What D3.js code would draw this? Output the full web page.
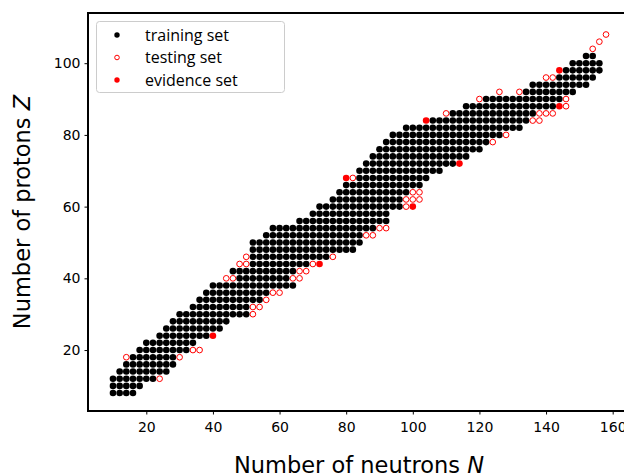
<!DOCTYPE html>
<html>
<head>
<meta charset="utf-8">
<script src="https://cdn.jsdelivr.net/npm/d3@7"></script>
<style>
  body { margin: 0; background: #fff; }
  svg { display: block; }
  .tick text { font-family: "DejaVu Sans", sans-serif; font-size: 14px; fill: #000; }
  .axis-label { font-family: "DejaVu Sans", sans-serif; font-size: 22.5px; fill: #000; }
  .legend text { font-family: "Open Sans", sans-serif; font-size: 16px; fill: #000; }
</style>
</head>
<body>
<div id="chart"></div>
<script>
// even-even nuclei, one row per proton number Z
// training set given as first / last neutron number N of each row (step 2)
var protonZ     = [  8, 10, 12, 14, 16, 18, 20, 22, 24, 26, 28, 30, 32, 34, 36, 38, 40, 42, 44, 46, 48, 50, 52, 54, 56, 58, 60, 62, 64, 66, 68, 70, 72, 74, 76, 78, 80, 82, 84, 86, 88, 90, 92, 94, 96, 98,100,102];
var trainFirstN = [ 10, 10, 10, 12, 14, 16, 18, 20, 24, 26, 28, 30, 34, 36, 38, 40, 48, 46, 52, 52, 52, 52, 56, 58, 66, 70, 72, 76, 78, 80, 84, 84, 86, 88, 90, 92, 94, 98,106,112,116,122,134,136,144,146,148,152];
var trainLastN  = [ 16, 18, 22, 26, 28, 28, 32, 34, 38, 42, 44, 50, 50, 54, 56, 64, 62, 64, 68, 74, 82, 84, 84, 88, 92, 92, 96, 96, 98,102,104,108,112,116,120,122,126,132,134,136,142,144,148,152,154,156,156,154];

// testing set
var testN = [24, 14, 30, 34, 36, 52, 52, 54, 56, 58, 60, 44, 46, 64, 66, 66, 68, 48, 50, 70, 50, 76, 86, 88, 90, 92,
             98, 98,100,102,100,102, 82,124,128,136,138,110,138,140,142,146,120,146,126,132,140,142,154,156,158];
var testZ = [12, 18, 18, 20, 20, 30, 32, 32, 34, 36, 36, 40, 40, 40, 40, 42, 42, 44, 44, 44, 46, 46, 52, 52, 54, 54,
             60, 62, 62, 62, 64, 64, 68, 78, 80, 84, 84, 86, 86, 86, 86, 88, 90, 90, 92, 92, 96, 96,104,106,108];

// evidence set
var evidN = [40, 72, 100, 80, 114, 104, 144, 144];
var evidZ = [24, 44,  60, 68,  72,  84,  88,  98];

var xTicks = [20, 40, 60, 80, 100, 120, 140, 160];
var yTicks = [20, 40, 60, 80, 100];

var width = 624, height = 475;
var plotLeft = 88, plotTop = 13, plotBottom = 411, plotRight = 630;

var svg = d3.select("#chart").append("svg")
    .attr("width", width)
    .attr("height", height);

var x = d3.scaleLinear().domain([2.5, 165.2]).range([plotLeft, plotRight]);
var y = d3.scaleLinear().domain([3, 114]).range([plotBottom, plotTop]);

// build the training points from the row ranges
var training = [];
protonZ.forEach(function (z, i) {
    for (var n = trainFirstN[i]; n <= trainLastN[i]; n += 2) {
        training.push({ n: n, z: z });
    }
});
var testing = testN.map(function (n, i) { return { n: n, z: testZ[i] }; });
var evidence = evidN.map(function (n, i) { return { n: n, z: evidZ[i] }; });

var plot = svg.append("g");

plot.selectAll(".train")
    .data(training)
    .enter()
    .append("circle")
    .attr("class", "train")
    .attr("cx", function (d) { return x(d.n); })
    .attr("cy", function (d) { return y(d.z); })
    .attr("r", 3.3)
    .style("fill", "#000");

plot.selectAll(".test")
    .data(testing)
    .enter()
    .append("circle")
    .attr("class", "test")
    .attr("cx", function (d) { return x(d.n); })
    .attr("cy", function (d) { return y(d.z); })
    .attr("r", 2.85)
    .style("fill", "#fff")
    .style("stroke", "#ff0000")
    .style("stroke-width", 1);

plot.selectAll(".evid")
    .data(evidence)
    .enter()
    .append("circle")
    .attr("class", "evid")
    .attr("cx", function (d) { return x(d.n); })
    .attr("cy", function (d) { return y(d.z); })
    .attr("r", 3.3)
    .style("fill", "#ff0000");

// axes
var xAxis = svg.append("g")
    .attr("transform", "translate(0," + plotBottom + ")")
    .call(d3.axisBottom(x).tickValues(xTicks).tickSize(3.5).tickPadding(8));
xAxis.select(".domain").remove();

var yAxis = svg.append("g")
    .attr("transform", "translate(" + plotLeft + ",0)")
    .call(d3.axisLeft(y).tickValues(yTicks).tickSize(3.5).tickPadding(4));
yAxis.select(".domain").remove();

svg.selectAll(".tick line").style("stroke", "#000").style("stroke-width", 1);

// frame (right side falls outside the picture)
svg.append("rect")
    .attr("x", plotLeft)
    .attr("y", plotTop)
    .attr("width", plotRight - plotLeft)
    .attr("height", plotBottom - plotTop)
    .style("fill", "none")
    .style("stroke", "#000")
    .style("stroke-width", 2);

// axis labels
var xl = svg.append("text")
    .attr("class", "axis-label")
    .attr("x", (plotLeft + plotRight) / 2)
    .attr("y", 473)
    .attr("text-anchor", "middle");
xl.append("tspan").text("Number of neutrons ");
xl.append("tspan").style("font-style", "italic").text("N");

var yl = svg.append("text")
    .attr("class", "axis-label")
    .attr("transform", "translate(29.5," + (plotTop + plotBottom) / 2 + ") rotate(-90)")
    .attr("text-anchor", "middle");
yl.append("tspan").text("Number of protons ");
yl.append("tspan").style("font-style", "italic").text("Z");

// legend
var legend = svg.append("g").attr("class", "legend");

legend.append("rect")
    .attr("x", 96.5)
    .attr("y", 21.5)
    .attr("width", 188)
    .attr("height", 71)
    .attr("rx", 3)
    .style("fill", "#fff")
    .style("stroke", "#cccccc")
    .style("stroke-width", 1);

var legendItems = [
    { label: "training set", fill: "#000", stroke: "none" },
    { label: "testing set", fill: "#fff", stroke: "#ff0000" },
    { label: "evidence set", fill: "#ff0000", stroke: "none" }
];

legendItems.forEach(function (d, i) {
    var cy = 35 + i * 22.5;
    legend.append("circle")
        .attr("cx", 117)
        .attr("cy", cy)
        .attr("r", d.stroke === "none" ? 2.7 : 2.3)
        .style("fill", d.fill)
        .style("stroke", d.stroke)
        .style("stroke-width", 1);
    legend.append("text")
        .attr("x", 145)
        .attr("y", cy)
        .attr("dy", "0.35em")
        .text(d.label);
});
</script>
</body>
</html>
